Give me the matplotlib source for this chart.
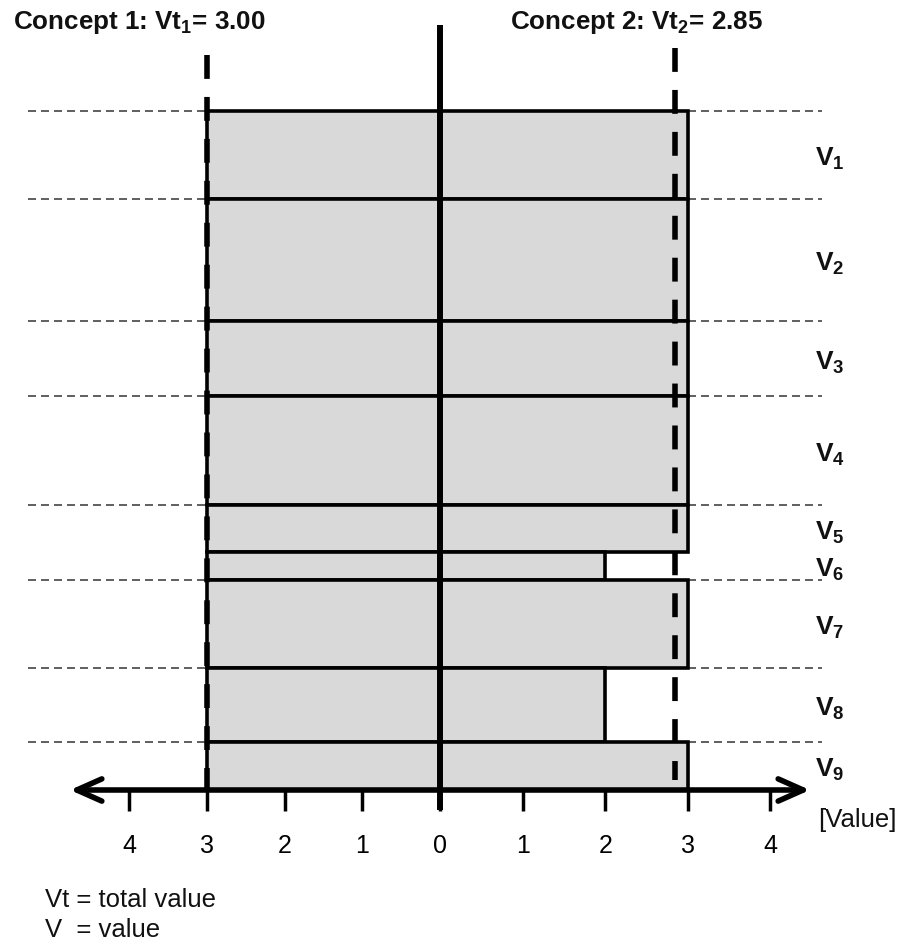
import numpy as np
import matplotlib
matplotlib.use("Agg")
import matplotlib.pyplot as plt
from matplotlib.patches import FancyArrowPatch

# ---------------- data ----------------
criteria = ["1", "2", "3", "4", "5", "6", "7", "8", "9"]
weights = [0.13, 0.18, 0.11, 0.16, 0.07, 0.04, 0.13, 0.11, 0.07]
concept1 = [3, 3, 3, 3, 3, 3, 3, 3, 3]
concept2 = [3, 3, 3, 3, 3, 2, 3, 2, 3]
tick_vals = [0, 1, 2, 3, 4]
vt1 = float(np.dot(weights, concept1))   # 3.00
vt2 = float(np.dot(weights, concept2))   # 2.85
dashed_boundary = [True, True, True, True, True, False, True, True, True, False]

plt.rcParams['font.family'] = ['Liberation Sans', 'DejaVu Sans']
plt.rcParams['mathtext.fontset'] = 'custom'
plt.rcParams['mathtext.rm'] = 'Liberation Sans'
plt.rcParams['mathtext.bf'] = 'Liberation Sans:bold'
plt.rcParams['mathtext.it'] = 'Liberation Sans:italic'

W, H = 900, 944
fig = plt.figure(figsize=(9, 9.44), dpi=100)

# pixel layout helpers
x0 = 440.0
sl, sr = 77.7, 82.6
ytop, yspan = 111.0, 679.0
ylim = ((H - ytop) / yspan, (0 - ytop) / yspan)

axL = fig.add_axes([0, 0, x0 / W, 1])
axR = fig.add_axes([x0 / W, 0, (W - x0) / W, 1])
axL.set_xlim(-x0 / sl, 0)
axR.set_xlim(0, (W - x0) / sr)
for ax in (axL, axR):
    ax.set_ylim(*ylim)
    ax.patch.set_alpha(0)
    for s in ax.spines.values():
        s.set_visible(False)
    ax.spines['bottom'].set_position(('data', 1.0))
    ax.set_yticks([])
    ax.tick_params(axis='x', direction='out', length=15, width=2.5,
                   pad=17, labelsize=18, colors='black')

w = np.array(weights)
edges = np.concatenate([[0], np.cumsum(w)])
centers = (edges[:-1] + edges[1:]) / 2

barkw = dict(color='#d9d9d9', edgecolor='black', linewidth=2.6, zorder=2)
axL.barh(centers, -np.array(concept1), height=w, left=0, **barkw)
axR.barh(centers, np.array(concept2), height=w, left=0, **barkw)

# ticks
axL.set_xticks([-t for t in tick_vals])
axL.set_xticklabels([str(t) for t in tick_vals])
axR.set_xticks(tick_vals[1:])
axR.set_xticklabels([str(t) for t in tick_vals[1:]])

# horizontal dashed boundary lines
lx_end = -(x0 - 28) / sl
rx_end = (822 - x0) / sr
for i, yb in enumerate(edges):
    if not dashed_boundary[i]:
        continue
    adj = []
    if i > 0:
        adj.append(i - 1)
    if i < len(weights):
        adj.append(i)
    lstart = -max(concept1[j] for j in adj)
    rstart = max(concept2[j] for j in adj)
    axL.plot([lx_end, lstart], [yb, yb], color='#444444', lw=1.2,
             dashes=(4.8, 3.0), zorder=1, clip_on=False)
    axR.plot([rstart, rx_end], [yb, yb], color='#444444', lw=1.2,
             dashes=(4.8, 3.0), zorder=1, clip_on=False)

# central axis line
axR.plot([0, 0], [(25 - ytop) / yspan, (810 - ytop) / yspan], color='black',
         lw=4.3, solid_capstyle='butt', zorder=5, clip_on=False)

# total value dashed verticals
axL.plot([-vt1, -vt1], [(55 - ytop) / yspan, 1.0], color='black', lw=4,
         dashes=(4.3, 3.25), zorder=4, clip_on=False)
axR.plot([vt2, vt2], [(48 - ytop) / yspan, (780 - ytop) / yspan], color='black', lw=4,
         dashes=(4.3, 3.25), zorder=4, clip_on=False)

# horizontal axis arrows
arrL = FancyArrowPatch((0, 1.0), (-(x0 - 70) / sl, 1.0),
                       arrowstyle='->,head_length=18,head_width=8',
                       mutation_scale=1, lw=4, color='black',
                       shrinkA=0, shrinkB=0, zorder=6, clip_on=False)
axL.add_patch(arrL)
arrR = FancyArrowPatch((0, 1.0), ((810 - x0) / sr, 1.0),
                       arrowstyle='->,head_length=18,head_width=8',
                       mutation_scale=1, lw=4, color='black',
                       shrinkA=0, shrinkB=0, zorder=6, clip_on=False)
axR.add_patch(arrR)

# criterion labels
for c, yc in zip(criteria, centers):
    axR.text((815 - x0) / sr, yc + 4 / yspan, r'V$_{\mathbf{' + c + '}}$', fontsize=19,
             fontweight='bold', ha='left', va='center', color='#111111')

# titles & notes
fig.text(13 / W, 1 - 23 / H, r'Concept 1: Vt$_{\mathbf{1}}$= ' + f'{vt1:.2f}',
         fontsize=18.7, fontweight='bold', ha='left', va='center', color='#111111')
fig.text(510 / W, 1 - 22 / H, r'Concept 2: Vt$_{\mathbf{2}}$= ' + f'{vt2:.2f}',
         fontsize=18.7, fontweight='bold', ha='left', va='center', color='#111111')
fig.text(818 / W, 1 - 820 / H, '[Value]', fontsize=18.5, ha='left', va='center',
         color='#111111')
fig.text(45 / W, 1 - 900 / H, 'Vt = total value', fontsize=18.5, ha='left',
         va='center', color='#111111')
fig.text(45 / W, 1 - 930 / H, 'V  = value', fontsize=18.5, ha='left',
         va='center', color='#111111')

fig.savefig('out.png', dpi=100)
